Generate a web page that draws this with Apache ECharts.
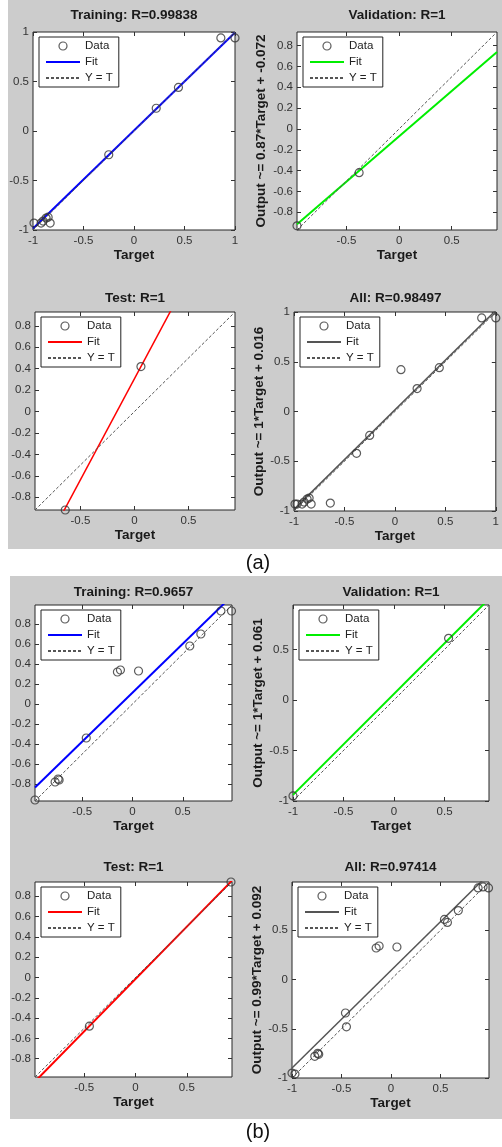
<!DOCTYPE html>
<html><head><meta charset="utf-8">
<script src="https://cdn.jsdelivr.net/npm/echarts@6/dist/echarts.min.js"></script>
<style>html,body{margin:0;padding:0;background:#fff}#c{width:502px;height:1147px}</style>
</head><body><div id="c"></div>
<script>
// ---------------- data ----------------
const titles = ['Training: R=0.99838', 'Validation: R=1', 'Test: R=1', 'All: R=0.98497',
                'Training: R=0.9657', 'Validation: R=1', 'Test: R=1', 'All: R=0.97414'];
const yNames = ['', 'Output ~= 0.87*Target + -0.072', '', 'Output ~= 1*Target + 0.016',
                '', 'Output ~= 1*Target + 0.061', '', 'Output ~= 0.99*Target + 0.092'];
const xName = 'Target';
const captions = ['(a)', '(b)'];
const legendNames = ['Data', 'Fit', 'Y = T'];

// (a) network
const trainA = [[-0.99,-0.93],[-0.92,-0.93],[-0.90,-0.91],[-0.87,-0.88],[-0.85,-0.87],[-0.83,-0.93],
                [-0.25,-0.24],[0.22,0.23],[0.44,0.44],[0.86,0.94],[1.0,0.94]];
const valA   = [[-0.97,-0.93],[-0.38,-0.42]];
const testA  = [[0.06,0.42],[-0.64,-0.92]];
const allA   = [...trainA, ...valA, ...testA];
// (b) network
const trainB = [[-0.97,-0.96],[-0.77,-0.78],[-0.74,-0.75],[-0.73,-0.76],[-0.46,-0.34],[-0.15,0.32],
                [-0.12,0.34],[0.06,0.33],[0.57,0.58],[0.68,0.70],[0.88,0.93],[0.985,0.93]];
const valB   = [[-1.0,-0.95],[0.54,0.61]];
const testB  = [[-0.45,-0.48],[0.93,0.94]];
const allB   = [...trainB, ...valB, ...testB];

const points = [trainA, valA, testA, allA, trainB, valB, testB, allB];
const fitSlope     = [0.99, 0.87, 1.89, 1.0, 0.978, 1.0, 1.03, 0.99];
const fitIntercept = [0.005, -0.072, 0.307, 0.016, 0.113, 0.061, -0.015, 0.092];
const axisMin = [-1, -0.97, -0.92, -1, -0.97, -1, -0.98, -1];
const axisMax = [1, 0.93, 0.93, 1, 0.99, 0.94, 0.94, 0.99];
const t5 = [-1, -0.5, 0, 0.5, 1];
const t4 = [-1, -0.5, 0, 0.5];
const t3 = [-0.5, 0, 0.5];
const t9 = [-0.8, -0.6, -0.4, -0.2, 0, 0.2, 0.4, 0.6, 0.8];
const xTicks = [t5, t3, t3, t5, t3, t4, t3, t4];
const yTicks = [t5, t9, t9, t5, t9, t4, t9, t4];

// ---------------- layout / style ----------------
const grids = [
  {left:33, top:32, width:202, height:198},
  {left:297, top:32, width:200, height:198},
  {left:35, top:312, width:200, height:198},
  {left:294, top:312, width:203, height:199},
  {left:35, top:605, width:197, height:196},
  {left:293, top:605, width:196, height:196},
  {left:35, top:882, width:197, height:195},
  {left:292, top:882, width:197, height:196}
];
const titleY = [15, 15, 298, 298, 592, 592, 867, 867];
const yNameGap = [30, 29, 30, 27, 30, 27, 30, 27];
const fitColor = ['#0000ff', '#00ee00', '#ff0000', '#555555', '#0000ff', '#00ee00', '#ff0000', '#555555'];
const fitWidth = [2, 2, 1.5, 1.5, 2, 2, 2, 1.5];
const FONT = 'Liberation Sans';
const hiddenSym = {color: 'rgba(0,0,0,0)', borderWidth: 0, opacity: 0};

const xAxes = [], yAxes = [], series = [], legends = [], titleComps = [];
grids.forEach((g, i) => {
  const mk = (isX, main) => ({
    type: 'value', gridIndex: i, min: axisMin[i], max: axisMax[i],
    position: isX ? (main ? 'bottom' : 'top') : (main ? 'left' : 'right'),
    axisLine: {show: false, onZero: false},
    axisTick: {show: true, inside: true, length: 4, customValues: isX ? xTicks[i] : yTicks[i],
               lineStyle: {color: '#333', width: 1}},
    axisLabel: {show: main, customValues: isX ? xTicks[i] : yTicks[i], margin: isX ? 5 : 4,
                fontSize: 11.5, color: '#333', fontFamily: FONT},
    splitLine: {show: false},
    name: main ? (isX ? xName : yNames[i]) : '',
    nameLocation: 'middle',
    nameGap: isX ? 18 : yNameGap[i],
    nameTextStyle: {fontSize: 13.5, fontWeight: 'bold', color: '#1a1a1a', fontFamily: FONT}
  });
  xAxes.push(mk(true, true), mk(true, false));
  yAxes.push(mk(false, true), mk(false, false));

  const lo = axisMin[i], hi = axisMax[i];
  series.push({
    type: 'line', name: 'Fit|' + i, xAxisIndex: 2*i, yAxisIndex: 2*i, symbol: 'none', clip: true,
    data: [[lo, fitSlope[i]*lo + fitIntercept[i]], [hi, fitSlope[i]*hi + fitIntercept[i]]],
    lineStyle: {color: fitColor[i], width: fitWidth[i]}, itemStyle: {color: fitColor[i]}, z: 2
  });
  series.push({
    type: 'line', name: 'Y = T|' + i, xAxisIndex: 2*i, yAxisIndex: 2*i, symbol: 'none', clip: true,
    data: [[lo, lo], [hi, hi]],
    lineStyle: {color: '#555', width: 1, type: [3, 2]}, itemStyle: {color: '#555'}, z: 3
  });
  series.push({
    type: 'scatter', name: 'Data|' + i, xAxisIndex: 2*i, yAxisIndex: 2*i,
    symbol: 'circle', symbolSize: 8, data: points[i],
    itemStyle: {color: 'rgba(0,0,0,0)', borderColor: '#333', borderWidth: 1.2}, z: 4
  });
  legends.push({
    left: g.left + 6, top: g.top + 5, orient: 'vertical',
    data: [
      {name: legendNames[0] + '|' + i},
      {name: legendNames[1] + '|' + i, itemStyle: hiddenSym},
      {name: legendNames[2] + '|' + i, itemStyle: hiddenSym}
    ],
    formatter: n => n.split('|')[0],
    itemWidth: 34, itemHeight: 8, itemGap: 4, padding: [3, 6, 3, 6],
    backgroundColor: '#fff', borderColor: '#222', borderWidth: 1,
    textStyle: {fontSize: 11.5, color: '#222', fontFamily: FONT},
    itemStyle: {borderWidth: 1.2},
    selectedMode: false
  });
  titleComps.push({
    text: titles[i], left: g.left + g.width/2, top: titleY[i], padding: 0,
    textAlign: 'center', textVerticalAlign: 'middle',
    textStyle: {fontSize: 13.5, fontWeight: 'bold', color: '#1a1a1a', fontFamily: FONT}
  });
});
captions.forEach((c, k) => {
  titleComps.push({
    text: c, left: 258, top: k === 0 ? 563 : 1132, padding: 0,
    textAlign: 'center', textVerticalAlign: 'middle',
    textStyle: {fontSize: 20, fontWeight: 'normal', color: '#111', fontFamily: FONT}
  });
});

const chart = echarts.init(document.getElementById('c'), null, {renderer: 'canvas'});
chart.setOption({
  animation: false,
  backgroundColor: '#fff',
  graphic: [
    {type: 'rect', z: -100, silent: true, shape: {x: 8, y: 0, width: 494, height: 549}, style: {fill: '#cccccc'}},
    {type: 'rect', z: -100, silent: true, shape: {x: 10, y: 576, width: 492, height: 543}, style: {fill: '#cccccc'}}
  ],
  title: titleComps,
  legend: legends,
  grid: grids.map(g => Object.assign({show: true, borderColor: '#262626', borderWidth: 1, backgroundColor: '#fff'}, g)),
  xAxis: xAxes,
  yAxis: yAxes,
  series: series
});
</script></body></html>
